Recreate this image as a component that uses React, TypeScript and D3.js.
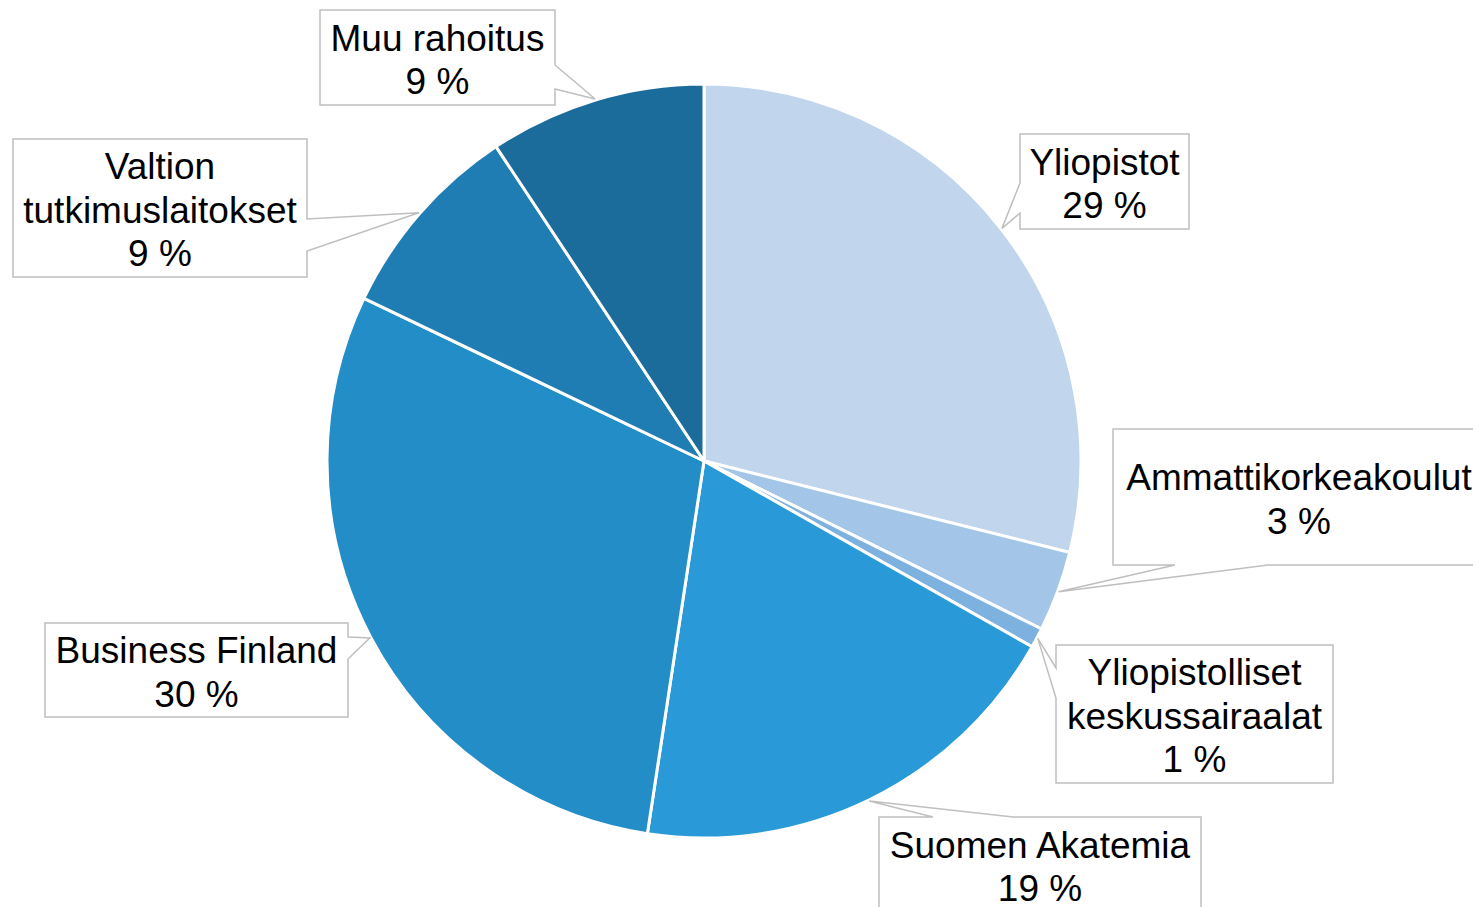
import React, { useEffect } from "react";
import * as d3 from "d3";

// ---- data ----
const categories = [
  "Yliopistot",
  "Ammattikorkeakoulut",
  "Yliopistolliset keskussairaalat",
  "Suomen Akatemia",
  "Business Finland",
  "Valtion tutkimuslaitokset",
  "Muu rahoitus",
];
const values = [28.9, 3.45, 0.85, 19.2, 29.7, 8.6, 9.3];
const labelLines = [
  ["Yliopistot"],
  ["Ammattikorkeakoulut"],
  ["Yliopistolliset", "keskussairaalat"],
  ["Suomen Akatemia"],
  ["Business Finland"],
  ["Valtion", "tutkimuslaitokset"],
  ["Muu rahoitus"],
];
const colors = ["#C1D6EC", "#A3C5E7", "#7DB1E0", "#2999D8", "#228DC6", "#1F7DB3", "#1B6C9A"];

// ---- layout (callout boxes) ----
type Side = "top" | "right" | "bottom" | "left";
const boxes: { x: number; y: number; w: number; h: number; side: Side; a: number; b: number }[] = [
  { x: 1020, y: 134, w: 169, h: 95, side: "left", a: 49, b: 79 },
  { x: 1113, y: 429, w: 372, h: 136, side: "bottom", a: 62, b: 155 },
  { x: 1056, y: 645, w: 277, h: 138, side: "left", a: 23, b: 53 },
  { x: 879, y: 817, w: 322, h: 95, side: "top", a: 54, b: 134 },
  { x: 45, y: 623, w: 303, h: 94, side: "right", a: 14, b: 36 },
  { x: 13, y: 139, w: 294, h: 138, side: "right", a: 80, b: 112 },
  { x: 320, y: 10, w: 235, h: 95, side: "right", a: 55, b: 79 },
];

const W = 1473;
const H = 907;
const CX = 704;
const CY = 461;
const R = 377;
const FS = 37;
const LH = 43.5;
const TEXT_SHIFT = 2;

function calloutPath(bx: (typeof boxes)[number], tx: number, ty: number) {
  const { x, y, w, h, side, a, b } = bx;
  const p = d3.path();
  if (side === "top") {
    p.moveTo(x, y); p.lineTo(x + a, y); p.lineTo(tx, ty); p.lineTo(x + b, y);
    p.lineTo(x + w, y); p.lineTo(x + w, y + h); p.lineTo(x, y + h); p.closePath();
  } else if (side === "right") {
    p.moveTo(x, y); p.lineTo(x + w, y); p.lineTo(x + w, y + a); p.lineTo(tx, ty);
    p.lineTo(x + w, y + b); p.lineTo(x + w, y + h); p.lineTo(x, y + h); p.closePath();
  } else if (side === "bottom") {
    p.moveTo(x, y); p.lineTo(x + w, y); p.lineTo(x + w, y + h); p.lineTo(x + b, y + h);
    p.lineTo(tx, ty); p.lineTo(x + a, y + h); p.lineTo(x, y + h); p.closePath();
  } else {
    p.moveTo(x, y); p.lineTo(x + w, y); p.lineTo(x + w, y + h); p.lineTo(x, y + h);
    p.lineTo(x, y + b); p.lineTo(tx, ty); p.lineTo(x, y + a); p.closePath();
  }
  return p.toString();
}

if (typeof document !== "undefined") document.body.style.margin = "0";

export default function App() {
  useEffect(() => {
    document.body.style.margin = "0";
  }, []);
  const total = d3.sum(values);
  const pie = d3.pie<number>().sort(null).value((d) => d).startAngle(0).endAngle(2 * Math.PI);
  const arcs = pie(values);
  const arc = d3.arc<d3.PieArcDatum<number>>().innerRadius(0).outerRadius(R);

  return (
    <svg width={W} height={H} style={{ display: "block" }} fontFamily="'Liberation Sans', Arial, sans-serif">
      <rect width={W} height={H} fill="#fff" />
      <g transform={`translate(${CX},${CY})`}>
        {arcs.map((d, i) => (
          <path key={categories[i]} d={arc(d) || ""} fill={colors[i]} stroke="#fff" strokeWidth={3} strokeLinejoin="round" />
        ))}
      </g>
      {arcs.map((d, i) => {
        const mid = (d.startAngle + d.endAngle) / 2;
        const tx = CX + (R + 1) * Math.sin(mid);
        const ty = CY - (R + 1) * Math.cos(mid);
        const bx = boxes[i];
        const lines = [...labelLines[i], `${Math.round((values[i] / total) * 100)} %`];
        const cx = bx.x + bx.w / 2;
        const cy = bx.y + bx.h / 2;
        const start = cy - ((lines.length - 1) * LH) / 2 + TEXT_SHIFT;
        return (
          <g key={"lbl" + i}>
            <path d={calloutPath(bx, tx, ty)} fill="#fff" stroke="#BFBFBF" strokeWidth={1.5} />
            {lines.map((t, j) => (
              <text key={j} x={cx} y={start + j * LH} dy="0.35em" textAnchor="middle" fontSize={FS} fill="#000">
                {t}
              </text>
            ))}
          </g>
        );
      })}
    </svg>
  );
}
